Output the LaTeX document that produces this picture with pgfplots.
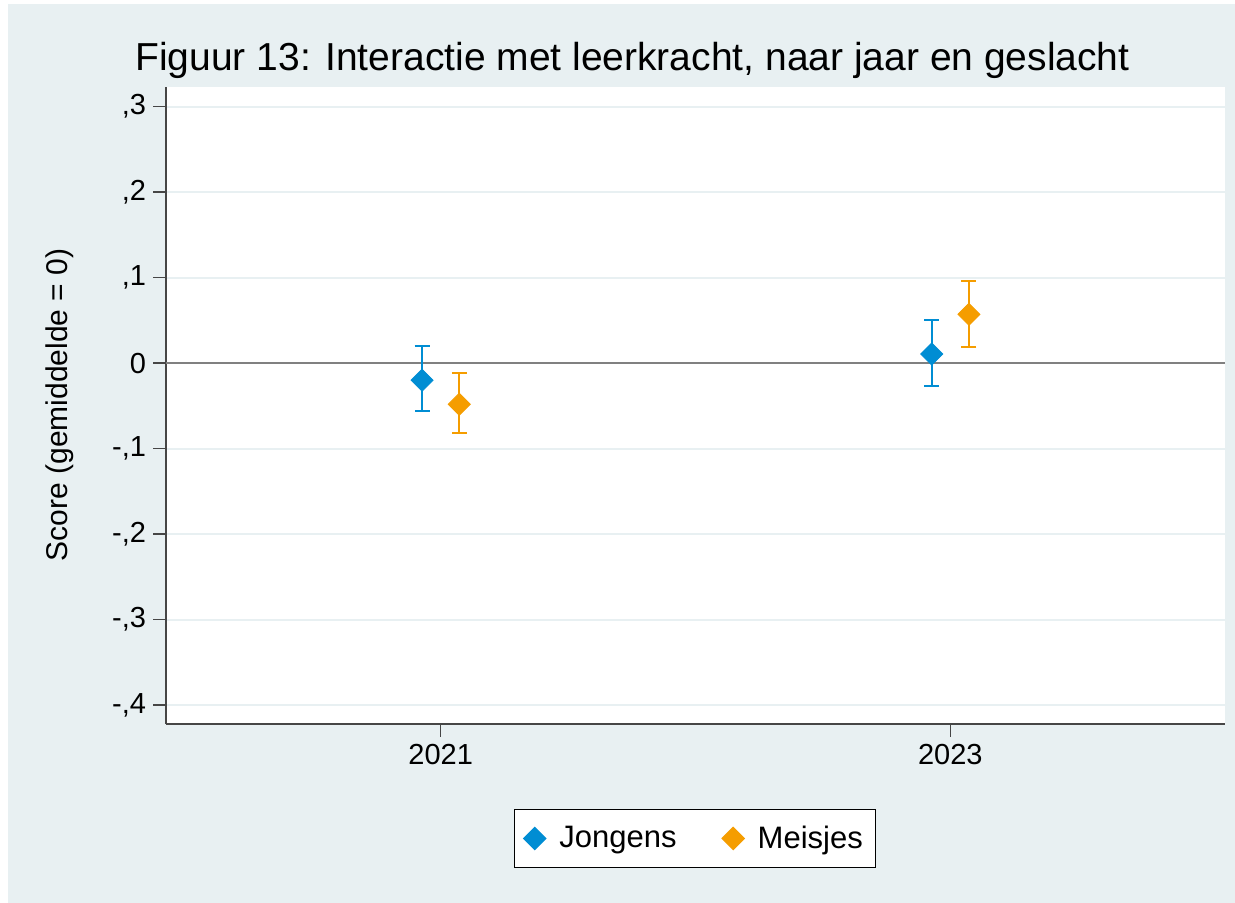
\documentclass[border=0pt]{standalone}
\usepackage{fontspec}
\setmainfont{Liberation Sans}
\usepackage{pgfplots}
\pgfplotsset{compat=1.18}
\definecolor{bgcol}{RGB}{232,240,242}
\definecolor{gridcol}{RGB}{232,240,242}
\definecolor{jblue}{RGB}{0,141,211}
\definecolor{morange}{RGB}{245,157,0}
\definecolor{axcol}{RGB}{70,70,70}

% point estimates with the distances to the upper and lower bounds
\pgfplotstableread{
x        y       ep      em
2020.927 -0.0200 0.0404 0.0360
2022.927  0.0106 0.0395 0.0374
}\jongens
\pgfplotstableread{
x        y       ep      em
2021.073 -0.0482 0.0363 0.0339
2023.073  0.0571 0.0386 0.0386
}\meisjes

\begin{document}
\begin{tikzpicture}[x=1pt,y=1pt]
\fill[white] (0,0) rectangle (617.5,451.5);
\fill[bgcol] (4,0) rectangle (617.5,449.5);
\begin{axis}[
    at={(83pt,89.65pt)}, anchor=south west,
    scale only axis,
    width=529.5pt, height=318.5pt,
    xmin=2019.922, xmax=2024.078,
    ymin=-0.4219, ymax=0.3234,
    axis background/.style={fill=white},
    axis x line*=bottom, axis y line*=left,
    axis line style={axcol, line width=1pt},
    tick align=outside,
    major tick length=6.5pt,
    tick style={axcol, line width=0.8pt},
    xtick={2021,2023},
    xticklabels={2021,2023},
    ytick={-0.4,-0.3,-0.2,-0.1,0,0.1,0.2,0.3},
    yticklabels={{-,4},{-,3},{-,2},{-,1},{0},{,1},{,2},{,3}},
    tick label style={font=\fontsize{14.5pt}{17pt}\selectfont},
    ymajorgrids,
    major grid style={gridcol, line width=1pt},
    legend columns=2,
    legend style={at={(axis description cs:0.4995,-0.1802)}, anchor=center,
        draw=black, line width=0.6pt, fill=white,
        inner xsep=4.5pt, inner ysep=6.25pt,
        font=\fontsize{15.5pt}{18pt}\selectfont,
        /tikz/every even column/.append style={column sep=20.5pt}},
    legend image code/.code={\path (0pt,-1pt) (15.5pt,1pt);
        \draw[#1] plot coordinates {(5.5pt,0pt)};},
]
\addplot[forget plot, color=gray, line width=1.3pt] coordinates {(2019.922,0) (2024.078,0)};

\addplot[only marks, color=jblue, mark=square*, mark size=3.9pt,
    mark options={rotate=45, fill=jblue, draw=jblue},
    error bars/.cd, y dir=both, y explicit,
    error bar style={line width=1pt, jblue},
    error mark options={rotate=90, mark size=3.75pt, line width=1pt, jblue}]
    table[x=x, y=y, y error plus=ep, y error minus=em] {\jongens};
\addlegendentry{Jongens}

\addplot[only marks, color=morange, mark=square*, mark size=3.9pt,
    mark options={rotate=45, fill=morange, draw=morange},
    error bars/.cd, y dir=both, y explicit,
    error bar style={line width=1pt, morange},
    error mark options={rotate=90, mark size=3.75pt, line width=1pt, morange}]
    table[x=x, y=y, y error plus=ep, y error minus=em] {\meisjes};
\addlegendentry{Meisjes\hspace{9pt}}
\end{axis}
\node[anchor=base, font=\fontsize{19.5pt}{22pt}\selectfont] at (316.25,416)
    {Figuur 13: Interactie met leerkracht, naar jaar en geslacht};
\node[rotate=90, anchor=base, font=\fontsize{15pt}{18pt}\selectfont] at (33.5,249)
    {Score (gemiddelde = 0)};
\end{tikzpicture}
\end{document}
